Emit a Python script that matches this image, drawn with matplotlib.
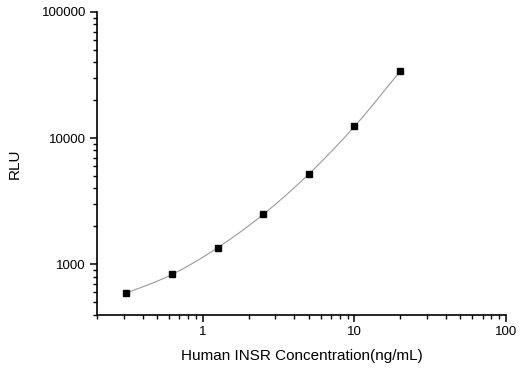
import matplotlib
matplotlib.use("Agg")
import matplotlib.pyplot as plt
import numpy as np
from matplotlib.ticker import LogLocator, FixedLocator, FixedFormatter, NullFormatter

plt.rcParams['font.family'] = ['Liberation Sans', 'DejaVu Sans']

concentration = [0.3125, 0.625, 1.25, 2.5, 5, 10, 20]
rlu = [592, 833, 1357, 2492, 5210, 12390, 33800]

x_ticks = [1, 10, 100]
x_tick_labels = ["1", "10", "100"]
y_ticks = [1000, 10000, 100000]
y_tick_labels = ["1000", "10000", "100000"]

fig = plt.figure(figsize=(5.27, 3.69), dpi=100)
ax = fig.add_axes([97/527, 1-314.7/369, (506-97)/527, (314.7-12)/369])

# smooth curve in log space (Catmull-Rom through the data points)
lx = np.log10(concentration)
ly = np.log10(rlu)
px = np.concatenate([[2*lx[0]-lx[1]], lx, [2*lx[-1]-lx[-2]]])
py = np.concatenate([[2*ly[0]-ly[1]], ly, [2*ly[-1]-ly[-2]]])
cx, cy = [], []
t = np.linspace(0, 1, 20)
for i in range(1, len(px)-2):
    for arr, out in ((px, cx), (py, cy)):
        p0, p1, p2, p3 = arr[i-1], arr[i], arr[i+1], arr[i+2]
        out.extend(0.5*((2*p1) + (-p0+p2)*t + (2*p0-5*p1+4*p2-p3)*t**2 + (-p0+3*p1-3*p2+p3)*t**3))
ax.plot(10**np.array(cx), 10**np.array(cy), color='#9a9a9a', lw=0.8, zorder=2)
ax.plot(concentration, rlu, linestyle='none', marker='s', color='black', markersize=4.5, zorder=3)

ax.set_xscale('log')
ax.set_yscale('log')
ax.set_xlim(0.2, 100)
ax.set_ylim(400, 100000)

ax.xaxis.set_major_locator(FixedLocator(x_ticks))
ax.xaxis.set_major_formatter(FixedFormatter(x_tick_labels))
ax.yaxis.set_major_locator(FixedLocator(y_ticks))
ax.yaxis.set_major_formatter(FixedFormatter(y_tick_labels))
ax.xaxis.set_minor_locator(LogLocator(base=10, subs=np.arange(2, 10)))
ax.yaxis.set_minor_locator(LogLocator(base=10, subs=np.arange(2, 10)))
ax.xaxis.set_minor_formatter(NullFormatter())
ax.yaxis.set_minor_formatter(NullFormatter())

for s in ['top', 'right']:
    ax.spines[s].set_visible(False)
for s in ['left', 'bottom']:
    ax.spines[s].set_linewidth(1.2)

ax.tick_params(which='major', direction='out', length=5, width=1.1, labelsize=9.5, pad=3)
ax.tick_params(which='minor', direction='out', length=3, width=1.0)

ax.set_xlabel('Human INSR Concentration(ng/mL)', fontsize=11, labelpad=8)
ax.set_ylabel('RLU', fontsize=11, labelpad=14)

fig.savefig('out.png', dpi=100)
